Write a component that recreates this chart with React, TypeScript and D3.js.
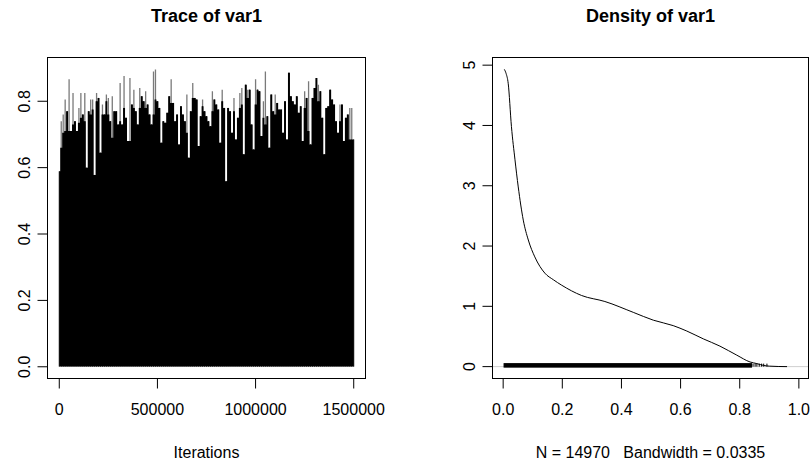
import React from "react";
import * as d3 from "d3";

const W = 811;
const H = 468;

// ---- Trace data (envelope, one column per 10000 iterations)
const traceStep = 10000;
const traceBody = [
  0.589, 0.66, 0.705, 0.71, 0.77, 0.71, 0.71, 0.73, 0.74, 0.71,
  0.735, 0.75, 0.76, 0.74, 0.6, 0.77, 0.76, 0.775, 0.578, 0.8,
  0.81, 0.645, 0.76, 0.76, 0.8, 0.76, 0.74, 0.69, 0.77, 0.77,
  0.73, 0.74, 0.73, 0.78, 0.75, 0.68, 0.68, 0.79, 0.78, 0.77,
  0.73, 0.78, 0.815, 0.8, 0.78, 0.79, 0.76, 0.73, 0.76, 0.805,
  0.8, 0.78, 0.675, 0.74, 0.735, 0.765, 0.815, 0.795, 0.795, 0.74,
  0.76, 0.67, 0.785, 0.76, 0.74, 0.705, 0.63, 0.77, 0.81, 0.81,
  0.805, 0.665, 0.755, 0.785, 0.77, 0.755, 0.74, 0.725, 0.77, 0.805,
  0.79, 0.775, 0.675, 0.8, 0.78, 0.559, 0.78, 0.77, 0.705, 0.77,
  0.685, 0.75, 0.78, 0.79, 0.64, 0.85, 0.81, 0.835, 0.73, 0.655,
  0.79, 0.835, 0.83, 0.695, 0.75, 0.73, 0.755, 0.66, 0.82, 0.77,
  0.76, 0.795, 0.775, 0.775, 0.705, 0.8, 0.685, 0.886, 0.815, 0.8,
  0.79, 0.815, 0.765, 0.785, 0.68, 0.78, 0.81, 0.71, 0.67, 0.81,
  0.84, 0.87, 0.8, 0.83, 0.75, 0.64, 0.78, 0.785, 0.835, 0.805,
  0.79, 0.74, 0.705, 0.74, 0.79, 0.68, 0.75, 0.76, 0.685, 0.685,
  0.685,
];
const spikeIdx = [1, 2, 3, 5, 7, 10, 11, 13, 16, 17, 19, 22, 24, 25, 27, 31, 33, 36, 38, 41, 44, 48, 49, 57, 65, 68, 73, 78, 83, 89, 92, 93, 96, 100, 104, 105, 110, 125, 127, 132, 143, 148, 149];
const spikeVal = [0.74, 0.76, 0.805, 0.866, 0.825, 0.78, 0.825, 0.825, 0.805, 0.805, 0.825, 0.79, 0.82, 0.81, 0.815, 0.855, 0.876, 0.87, 0.835, 0.84, 0.83, 0.89, 0.896, 0.866, 0.82, 0.855, 0.805, 0.83, 0.835, 0.81, 0.825, 0.84, 0.835, 0.866, 0.8, 0.89, 0.82, 0.83, 0.86, 0.85, 0.79, 0.78, 0.78];
const traceLow = 0.0005;
const traceXTicks = [0, 500000, 1000000, 1500000];
const traceYTicks = [0, 0.2, 0.4, 0.6, 0.8];

// ---- Density data
const densX = [0.004, 0.01, 0.017, 0.028, 0.04, 0.051, 0.068, 0.085, 0.107, 0.141, 0.17, 0.198, 0.265, 0.344, 0.44, 0.508, 0.575, 0.621, 0.677, 0.733, 0.79, 0.835, 0.858, 0.88, 0.9, 0.93, 0.96];
const densY = [4.93, 4.86, 4.7, 3.98, 3.43, 2.98, 2.43, 2.1, 1.82, 1.55, 1.44, 1.35, 1.18, 1.08, 0.9, 0.77, 0.68, 0.59, 0.46, 0.34, 0.19, 0.077, 0.05, 0.02, 0.008, 0.002, 0];
const densXRange = [0.0035, 0.993];
const densXTicks = [0, 0.2, 0.4, 0.6, 0.8, 1.0];
const densYTicks = [0, 1, 2, 3, 4, 5];
const rugDense = [0.003, 0.84];
const rugSparse = [0.845, 0.852, 0.858, 0.866, 0.874, 0.881, 0.892];
const nSamples = 14970;
const bandwidth = 0.0335;

const FONT = "'Liberation Sans', Arial, Helvetica, sans-serif";

const ext = (a: number, b: number): [number, number] => [a - 0.04 * (b - a), b + 0.04 * (b - a)];

export default function App() {
  const Lb = { x0: 47.5, x1: 365.5, y0: 57.5, y1: 378.5 };
  const Rb = { x0: 492.5, x1: 808.5, y0: 57.5, y1: 378.5 };

  const tIter = traceBody.map((_, i) => i * traceStep);
  const tx = d3.scaleLinear().domain(ext(0, d3.max(tIter) as number)).range([Lb.x0, Lb.x1]);
  const ty = d3
    .scaleLinear()
    .domain(ext(traceLow, d3.max(spikeVal) as number))
    .range([Lb.y1, Lb.y0]);

  const bodyArea = d3
    .area<number>()
    .x((_, i) => tx(tIter[i]))
    .y0(() => ty(traceLow))
    .y1((d) => ty(d))
    .curve(d3.curveStep);

  const dx = d3.scaleLinear().domain(ext(densXRange[0], densXRange[1])).range([Rb.x0, Rb.x1]);
  const dy = d3
    .scaleLinear()
    .domain(ext(0, d3.max(densY) as number))
    .range([Rb.y1, Rb.y0]);
  const densLine = d3
    .line<number>()
    .x((_, i) => dx(densX[i]))
    .y((d) => dy(d))
    .curve(d3.curveMonotoneX);

  const rugTop = dy((d3.max(densY) as number) / 100);
  const tickLen = 10;

  return (
    <svg
      width={W}
      height={H}
      viewBox={`0 0 ${W} ${H}`}
      style={{ position: "absolute", left: 0, top: 0, background: "#fff" }}
      fontFamily={FONT}
    >
      <rect x={0} y={0} width={W} height={H} fill="#fff" />
      <defs>
        <clipPath id="clipL">
          <rect x={Lb.x0} y={Lb.y0} width={Lb.x1 - Lb.x0} height={Lb.y1 - Lb.y0} />
        </clipPath>
        <clipPath id="clipR">
          <rect x={Rb.x0} y={Rb.y0} width={Rb.x1 - Rb.x0} height={Rb.y1 - Rb.y0} />
        </clipPath>
      </defs>

      {/* ---------- Trace panel ---------- */}
      <text x={(Lb.x0 + Lb.x1) / 2} y={21.5} textAnchor="middle" fontWeight="bold" fontSize={18}>
        Trace of var1
      </text>
      <g clipPath="url(#clipL)">
        {spikeIdx.map((idx, k) => (
          <line
            key={k}
            x1={tx(tIter[idx])}
            x2={tx(tIter[idx])}
            y1={ty(traceBody[idx])}
            y2={ty(spikeVal[k])}
            stroke="#7a7a7a"
            strokeWidth={1.3}
          />
        ))}
        <path d={bodyArea(traceBody) || ""} fill="#000" stroke="none" />
        {traceBody.map((v, i) => (
          <line
            key={`b${i}`}
            x1={tx(tIter[i])}
            x2={tx(tIter[i])}
            y1={ty(traceLow)}
            y2={ty(v)}
            stroke="#000"
            strokeWidth={1}
          />
        ))}
      </g>
      <rect x={Lb.x0} y={Lb.y0} width={Lb.x1 - Lb.x0} height={Lb.y1 - Lb.y0} fill="none" stroke="#000" />
      {traceYTicks.map((t) => (
        <g key={t}>
          <line x1={Lb.x0 - tickLen} x2={Lb.x0} y1={ty(t)} y2={ty(t)} stroke="#000" />
          <text
            transform={`translate(${Lb.x0 - 18},${ty(t)}) rotate(-90)`}
            textAnchor="middle"
            fontSize={16}
          >
            {d3.format(".1f")(t)}
          </text>
        </g>
      ))}
      <line x1={tx(0)} x2={tx(1500000)} y1={Lb.y1} y2={Lb.y1} stroke="#000" />
      {traceXTicks.map((t) => (
        <g key={t}>
          <line x1={tx(t)} x2={tx(t)} y1={Lb.y1} y2={Lb.y1 + tickLen} stroke="#000" />
          <text x={tx(t)} y={415} textAnchor="middle" fontSize={16}>
            {d3.format("d")(t)}
          </text>
        </g>
      ))}
      <text x={(Lb.x0 + Lb.x1) / 2} y={458} textAnchor="middle" fontSize={16}>
        Iterations
      </text>

      {/* ---------- Density panel ---------- */}
      <text x={(Rb.x0 + Rb.x1) / 2} y={21.5} textAnchor="middle" fontWeight="bold" fontSize={18}>
        Density of var1
      </text>
      <g clipPath="url(#clipR)">
        <line x1={Rb.x0} x2={Rb.x1} y1={dy(0)} y2={dy(0)} stroke="#cfcfcf" strokeWidth={1} />
        <rect
          x={dx(rugDense[0])}
          y={rugTop}
          width={dx(rugDense[1]) - dx(rugDense[0])}
          height={dy(0) - rugTop + 0.5}
          fill="#000"
          stroke="#000"
          strokeWidth={1}
        />
        {rugSparse.map((v, i) => (
          <line key={i} x1={dx(v)} x2={dx(v)} y1={rugTop} y2={dy(0)} stroke="#000" strokeWidth={1} />
        ))}
        <path d={densLine(densY) || ""} fill="none" stroke="#000" strokeWidth={1} />
      </g>
      <rect x={Rb.x0} y={Rb.y0} width={Rb.x1 - Rb.x0} height={Rb.y1 - Rb.y0} fill="none" stroke="#000" />
      {densYTicks.map((t) => (
        <g key={t}>
          <line x1={Rb.x0 - tickLen} x2={Rb.x0} y1={dy(t)} y2={dy(t)} stroke="#000" />
          <text
            transform={`translate(${Rb.x0 - 18},${dy(t)}) rotate(-90)`}
            textAnchor="middle"
            fontSize={16}
          >
            {String(t)}
          </text>
        </g>
      ))}
      {densXTicks.map((t) => (
        <g key={t}>
          <line x1={dx(t)} x2={dx(t)} y1={Rb.y1} y2={Rb.y1 + tickLen} stroke="#000" />
          <text x={dx(t)} y={415} textAnchor="middle" fontSize={16}>
            {d3.format(".1f")(t)}
          </text>
        </g>
      ))}
      <text x={(Rb.x0 + Rb.x1) / 2} y={458} textAnchor="middle" fontSize={16} style={{ whiteSpace: "pre" }}>
        {`N = ${nSamples}   Bandwidth = ${bandwidth}`}
      </text>
    </svg>
  );
}
